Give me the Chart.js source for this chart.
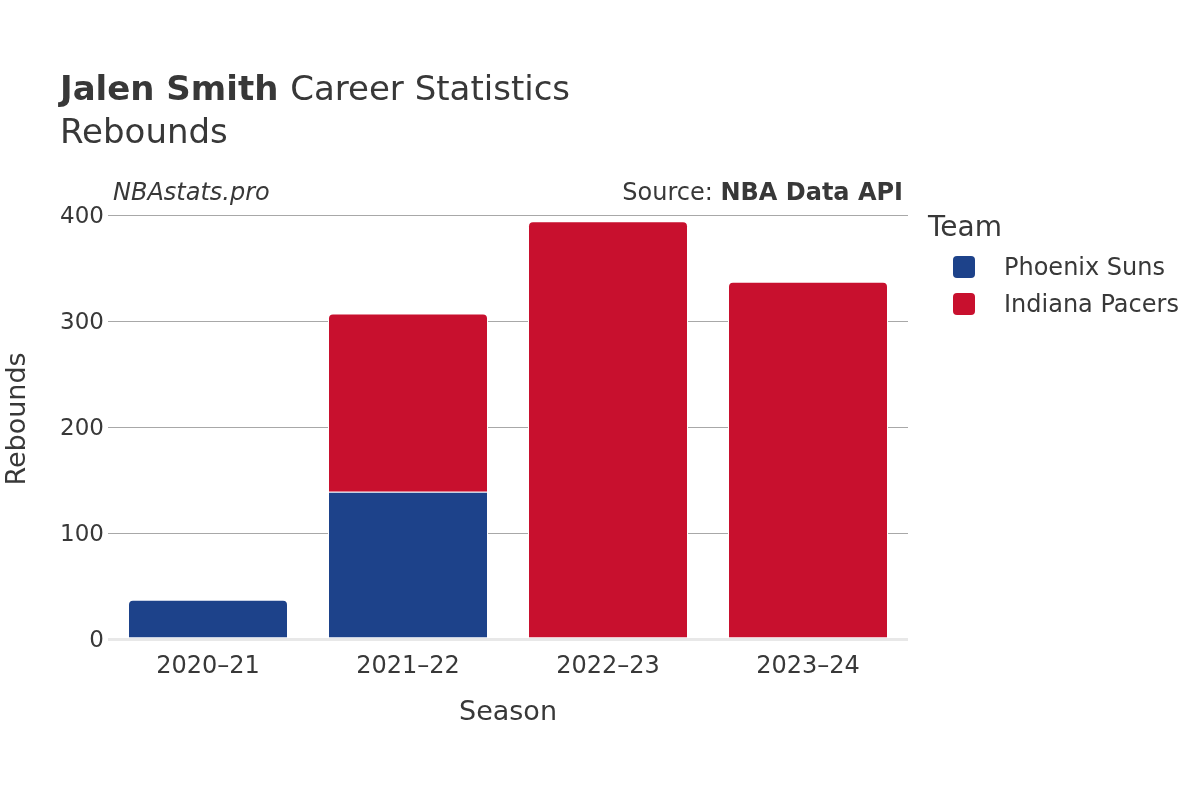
<!DOCTYPE html>
<html>
<head>
<meta charset="utf-8">
<script src="https://cdn.jsdelivr.net/npm/chart.js@4.4.1/dist/chart.umd.min.js"></script>
<style>
  html, body { margin: 0; padding: 0; background: #fff; }
  #chart { display: block; }
</style>
</head>
<body>
<canvas id="chart" width="1200" height="800"></canvas>
<script>
// Dados do gráfico
var seasons = ["2020–21", "2021–22", "2022–23", "2023–24"]
var phoenixSuns = [37, 139, null, null]
var indianaPacers = [null, 168, 394, 337]
var yTicks = [0, 100, 200, 300, 400]

// Cores
var colorSuns = "#1d428a"
var colorPacers = "#c8102e"
var textColor = "#383838"
var fontFamily = "'DejaVu Sans', sans-serif"

// Textos desenhados à mão: título, fonte, eixos e legenda
var textPlugin = {
  id: 'textPlugin',
  afterDraw: function (chart) {
    var ctx = chart.ctx
    ctx.save()
    ctx.fillStyle = textColor
    ctx.textBaseline = 'middle'

    // Título
    ctx.textAlign = 'left'
    ctx.font = "bold 34px " + fontFamily
    ctx.fillText("Jalen Smith", 60, 91)
    var w = ctx.measureText("Jalen Smith ").width
    ctx.font = "34px " + fontFamily
    ctx.fillText("Career Statistics", 60 + w, 91)
    ctx.fillText("Rebounds", 60, 134)

    // Marca d'água e fonte
    ctx.font = "italic 24px " + fontFamily
    ctx.fillText("NBAstats.pro", 113, 194)
    ctx.textAlign = 'right'
    ctx.font = "bold 24px " + fontFamily
    ctx.fillText("NBA Data API", 903, 194)
    var wb = ctx.measureText("NBA Data API").width
    ctx.font = "24px " + fontFamily
    ctx.fillText("Source: ", 903 - wb, 194)

    // Títulos dos eixos
    ctx.textAlign = 'center'
    ctx.font = "27px " + fontFamily
    ctx.fillText("Season", 508, 713)
    ctx.save()
    ctx.translate(18, 419)
    ctx.rotate(-Math.PI / 2)
    ctx.fillText("Rebounds", 0, 0)
    ctx.restore()

    // Legenda
    ctx.textAlign = 'left'
    ctx.font = "28px " + fontFamily
    ctx.fillText("Team", 928, 229)
    ctx.font = "24px " + fontFamily
    var items = [["Phoenix Suns", colorSuns, 268], ["Indiana Pacers", colorPacers, 305]]
    items.forEach(function (it) {
      ctx.fillStyle = it[1]
      ctx.beginPath()
      ctx.roundRect(953, it[2] - 12, 22, 22, 4)
      ctx.fill()
      ctx.fillStyle = textColor
      ctx.fillText(it[0], 1004, it[2] + 1)
    })
    ctx.restore()
  }
}

window.onload = function () {
  var el = document.getElementById("chart")
  new Chart(el, {
    type: 'bar',
    data: {
      labels: seasons,
      datasets: [{
        label: 'Phoenix Suns',
        data: phoenixSuns,
        backgroundColor: colorSuns,
        borderColor: '#ffffff',
        borderWidth: 1,
        borderRadius: 5,
        barPercentage: 0.8,
        categoryPercentage: 1.0
      }, {
        label: 'Indiana Pacers',
        data: indianaPacers,
        backgroundColor: colorPacers,
        borderColor: '#ffffff',
        borderWidth: 1,
        borderRadius: 5,
        barPercentage: 0.8,
        categoryPercentage: 1.0
      }]
    },
    options: {
      responsive: false,
      animation: false,
      layout: { padding: { top: 215, right: 292, left: 0, bottom: 0 } },
      plugins: {
        legend: { display: false },
        tooltip: { enabled: false }
      },
      scales: {
        x: {
          stacked: true,
          grid: { display: false },
          border: { display: false },
          ticks: {
            color: textColor,
            font: { family: fontFamily, size: 24 },
            padding: 5
          },
          afterFit: function (scale) { scale.height = 161 }
        },
        y: {
          stacked: true,
          min: 0,
          max: 400,
          afterBuildTicks: function (scale) {
            scale.ticks = yTicks.map(function (v) { return { value: v } })
          },
          grid: {
            drawTicks: false,
            tickLength: 0,
            color: function (c) { return c.tick.value === 0 ? '#e8e8e8' : '#a8a8a8' },
            lineWidth: function (c) { return c.tick.value === 0 ? 3 : 1 }
          },
          border: { display: false },
          ticks: {
            color: textColor,
            font: { family: fontFamily, size: 23 },
            padding: 4,
            labelOffset: 2
          },
          afterFit: function (scale) { scale.width = 108 }
        }
      }
    },
    plugins: [textPlugin]
  })
}
</script>
</body>
</html>
